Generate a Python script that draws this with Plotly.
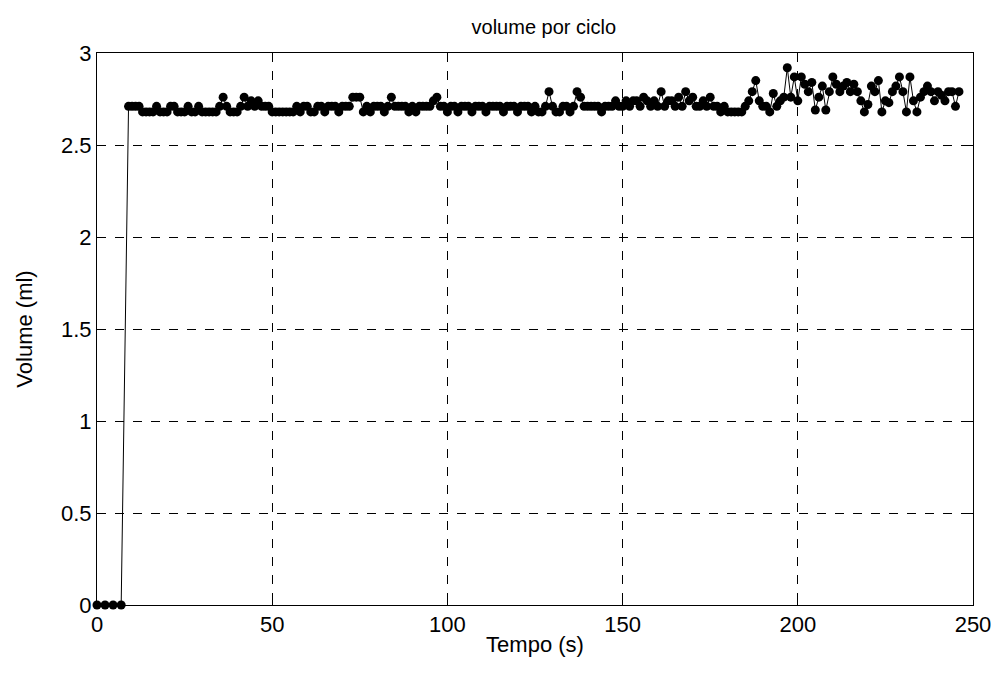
import plotly.graph_objects as go

# time (s) of each cycle: 4 start-up samples, then one per second
tempo = [0.0, 2.3, 4.6, 6.9] + list(range(9, 247))

# volume (ml) per cycle
volume = [0.0, 0.0, 0.0, 0.0,
    2.71, 2.71, 2.71, 2.71, 2.68, 2.68, 2.68, 2.68, 2.71, 2.68,   # 9-18
    2.68, 2.68, 2.71, 2.71, 2.68, 2.68, 2.68, 2.71, 2.68, 2.68,   # 19-28
    2.71, 2.68, 2.68, 2.68, 2.68, 2.68, 2.71, 2.76, 2.71, 2.68,   # 29-38
    2.68, 2.68, 2.71, 2.76, 2.71, 2.74, 2.71, 2.74, 2.71, 2.71,   # 39-48
    2.71, 2.68, 2.68, 2.68, 2.68, 2.68, 2.68, 2.68, 2.71, 2.68,   # 49-58
    2.71, 2.71, 2.68, 2.68, 2.71, 2.71, 2.68, 2.71, 2.71, 2.71,   # 59-68
    2.68, 2.71, 2.71, 2.71, 2.76, 2.76, 2.76, 2.68, 2.71, 2.68,   # 69-78
    2.71, 2.71, 2.71, 2.68, 2.71, 2.76, 2.71, 2.71, 2.71, 2.71,   # 79-88
    2.68, 2.71, 2.68, 2.71, 2.71, 2.71, 2.71, 2.74, 2.76, 2.71,   # 89-98
    2.71, 2.68, 2.71, 2.71, 2.68, 2.71, 2.71, 2.71, 2.68, 2.71,   # 99-108
    2.71, 2.71, 2.68, 2.71, 2.71, 2.71, 2.71, 2.68, 2.71, 2.71,   # 109-118
    2.71, 2.68, 2.71, 2.71, 2.71, 2.68, 2.71, 2.68, 2.68, 2.71,   # 119-128
    2.79, 2.71, 2.68, 2.68, 2.71, 2.71, 2.68, 2.71, 2.79, 2.76,   # 129-138
    2.71, 2.71, 2.71, 2.71, 2.71, 2.68, 2.71, 2.71, 2.71, 2.74,   # 139-148
    2.71, 2.71, 2.74, 2.71, 2.74, 2.74, 2.71, 2.76, 2.74, 2.71,   # 149-158
    2.74, 2.71, 2.79, 2.71, 2.74, 2.74, 2.71, 2.76, 2.71, 2.79,   # 159-168
    2.74, 2.76, 2.71, 2.71, 2.74, 2.71, 2.76, 2.71, 2.71, 2.68,   # 169-178
    2.71, 2.68, 2.68, 2.68, 2.68, 2.68, 2.71, 2.74, 2.79, 2.85,   # 179-188
    2.74, 2.71, 2.71, 2.68, 2.78, 2.71, 2.74, 2.76, 2.92, 2.76,   # 189-198
    2.87, 2.74, 2.87, 2.83, 2.79, 2.84, 2.69, 2.76, 2.82, 2.69,   # 199-208
    2.79, 2.87, 2.83, 2.79, 2.82, 2.84, 2.79, 2.83, 2.79, 2.74,   # 209-218
    2.68, 2.72, 2.82, 2.79, 2.85, 2.68, 2.74, 2.73, 2.79, 2.82,   # 219-228
    2.87, 2.79, 2.68, 2.87, 2.74, 2.68, 2.76, 2.79, 2.82, 2.79,   # 229-238
    2.74, 2.79, 2.77, 2.74, 2.79, 2.79, 2.71, 2.79]               # 239-246

assert len(tempo) == len(volume)

x_ticks = [0, 50, 100, 150, 200, 250]
y_ticks = [0, 0.5, 1, 1.5, 2, 2.5, 3]

FONT = "Liberation Sans, Arial, sans-serif"

fig = go.Figure()
fig.add_trace(go.Scatter(
    x=tempo, y=volume, mode="lines+markers",
    line=dict(color="black", width=1),
    marker=dict(color="black", size=9, symbol="circle"),
    cliponaxis=False, showlegend=False,
))

axis_common = dict(
    showgrid=True, gridcolor="black", gridwidth=0.6, griddash="dash",
    showline=True, linecolor="black", linewidth=1, mirror="ticks",
    ticks="inside", ticklen=5, tickcolor="black", zeroline=False,
    tickfont=dict(family=FONT, size=22, color="black"),
)

fig.update_xaxes(range=[0, 250], tickvals=x_ticks,
                 ticktext=[str(v) for v in x_ticks],
                 title=dict(text="Tempo (s)", standoff=0,
                            font=dict(family=FONT, size=22, color="black")),
                 **axis_common)
fig.update_yaxes(range=[0, 3], tickvals=y_ticks,
                 ticktext=["0", "0.5", "1", "1.5", "2", "2.5", "3"],
                 title=dict(text="Volume (ml)", standoff=22,
                            font=dict(family=FONT, size=22, color="black")),
                 **axis_common)

fig.update_layout(
    width=995, height=667,
    margin=dict(l=89, r=25, t=45, b=70),
    paper_bgcolor="white", plot_bgcolor="white",
    title=dict(text="volume por ciclo", x=0.5385, xanchor="center", y=0.972, yanchor="middle",
               font=dict(family=FONT, size=20, color="black")),
)

fig.write_html("out.html")
